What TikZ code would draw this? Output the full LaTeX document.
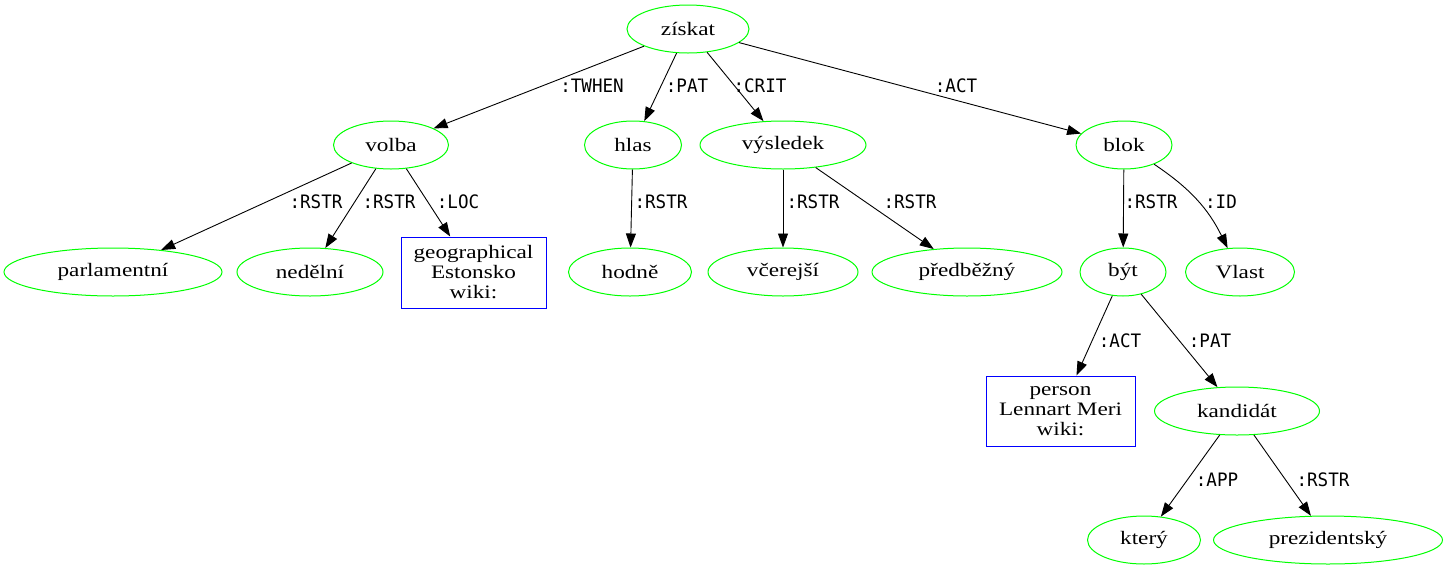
\documentclass[tikz,border=0pt]{standalone}
\usepackage{fontspec}
\setmainfont{Liberation Serif}[FakeStretch=1.22]
\newfontfamily\relfamily{DejaVu Sans Mono}[FakeStretch=0.95]
\usetikzlibrary{arrows.meta,shapes.geometric}

\begin{document}
\begin{tikzpicture}[x=1pt,y=-1pt, word/.style={draw=green,ellipse,line width=1pt,inner sep=0pt,minimum height=48pt,font=\fontsize{19}{20}\selectfont}, entity/.style={draw=blue,rectangle,line width=1pt,align=center,inner sep=0pt,font=\fontsize{19}{20}\selectfont}, arrow/.style={-{Triangle[length=14pt,width=10pt]},line width=0.9pt}, rel/.style={font=\relfamily\fontsize{18.5}{19}\selectfont,inner sep=0pt}]
\useasboundingbox (0,0) rectangle (1448,568);
\node[word,minimum width=122pt] (ziskat) at (688,29) {získat};
\node[word,minimum width=115pt] (volba) at (391,145) {volba};
\node[word,minimum width=97pt] (hlas) at (633,145) {hlas};
\node[word,minimum width=166pt] (vysledek) at (783,145) {výsledek};
\node[word,minimum width=96pt] (blok) at (1124,145) {blok};
\node[word,minimum width=218pt] (parlamentni) at (113,272) {parlamentní};
\node[word,minimum width=146pt] (nedelni) at (310,272) {nedělní};
\node[entity,minimum width=145pt,minimum height=71pt] (estonsko) at (473.5,272.5) {geographical\\Estonsko\\wiki:};
\node[word,minimum width=123pt] (hodne) at (630,272) {hodně};
\node[word,minimum width=150pt] (vcerejsi) at (783,272) {včerejší};
\node[word,minimum width=190pt] (predbezny) at (967,272) {předběžný};
\node[word,minimum width=86pt] (byt) at (1123,272) {být};
\node[word,minimum width=109pt] (vlast) at (1240,272) {Vlast};
\node[entity,minimum width=149pt,minimum height=70pt] (meri) at (1060.5,411) {person\\Lennart Meri\\wiki:};
\node[word,minimum width=165pt] (kandidat) at (1237,411) {kandidát};
\node[word,minimum width=113pt] (ktery) at (1144,540) {který};
\node[word,minimum width=229pt] (prezidentsky) at (1328,540) {prezidentský};
% edges
\draw[arrow] (ziskat) -- (volba); \draw[arrow] (ziskat) -- (hlas); \draw[arrow] (ziskat) -- (vysledek); \draw[arrow] (ziskat) -- (blok);
\draw[arrow] (volba) -- (parlamentni); \draw[arrow] (volba) -- (nedelni); \draw[arrow] (volba) -- (estonsko);
\draw[arrow] (hlas) -- (hodne);
\draw[arrow] (vysledek) -- (vcerejsi); \draw[arrow] (vysledek) -- (predbezny);
\draw[arrow] (blok) -- (byt); \draw[arrow] (blok) to[bend left=15] (vlast);
\draw[arrow] (byt) -- (meri); \draw[arrow] (byt) -- (kandidat);
\draw[arrow] (kandidat) -- (ktery); \draw[arrow] (kandidat) -- (prezidentsky);
% edge labels
\node[rel] (l1) at (592,86) {:TWHEN};
\node[rel] (l2) at (687,86) {:PAT};
\node[rel] (l3) at (760,86) {:CRIT};
\node[rel] (l4) at (956,86) {:ACT};
\node[rel] (l5) at (316,202) {:RSTR};
\node[rel] (l6) at (389,202) {:RSTR};
\node[rel] (l7) at (458,202) {:LOC};
\node[rel] (l8) at (661,202) {:RSTR};
\node[rel] (l9) at (813,202) {:RSTR};
\node[rel] (l10) at (910,202) {:RSTR};
\node[rel] (l11) at (1151,202) {:RSTR};
\node[rel] (l12) at (1221,202) {:ID};
\node[rel] (l13) at (1120,341) {:ACT};
\node[rel] (l14) at (1210,341) {:PAT};
\node[rel] (l15) at (1217,480) {:APP};
\node[rel] (l16) at (1323,480) {:RSTR};
\end{tikzpicture}
\end{document}
